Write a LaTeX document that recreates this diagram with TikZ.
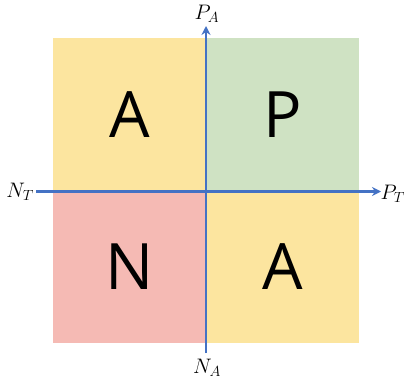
\documentclass[tikz,border=0pt]{standalone}
\usepackage{fix-cm}
\usepackage{fontspec}
\newfontfamily\quadfont{Open Sans}
\usetikzlibrary{arrows.meta}
\definecolor{qyellow}{HTML}{FCE59F}
\definecolor{qgreen}{HTML}{CFE2C3}
\definecolor{qred}{HTML}{F5BAB4}
\definecolor{axblue}{HTML}{4472C4}
\tikzset{
  quad/.style={minimum width=153pt, minimum height=152.5pt, inner sep=0pt, outer sep=0pt, font=\quadfont\fontsize{64}{64}\selectfont},
  axis/.style={draw=axblue, line width=2.2pt, -{Stealth[length=9pt,width=9pt]}},
  lab/.style={inner sep=0pt, font=\fontsize{21}{21}\selectfont}
}
\begin{document}
\begin{tikzpicture}[x=1pt,y=-1pt]
\useasboundingbox (0,0) rectangle (406,388);
\node[quad, fill=qyellow] (tl) at (129.5,114.25) {A};
\node[quad, fill=qgreen] (tr) at (282.5,114.25) {P};
\node[quad, fill=qred] (bl) at (129.5,266.75) {N};
\node[quad, fill=qyellow] (br) at (282.5,266.75) {A};
\coordinate (xl) at (36,191.5);
\coordinate (xr) at (381,191.5);
\coordinate (yb) at (206,353);
\coordinate (yt) at (206,26);
\draw[axis] (xl) -- (xr);
\draw[axis] (yb) -- (yt);
\node[lab, anchor=east] (nt) at (34,192) {$N_T$};
\node[lab, anchor=east] (pt) at (405,194) {$P_T$};
\node[lab] (pa) at (207,14) {$P_A$};
\node[lab] (na) at (207,368) {$N_A$};
\end{tikzpicture}
\end{document}
